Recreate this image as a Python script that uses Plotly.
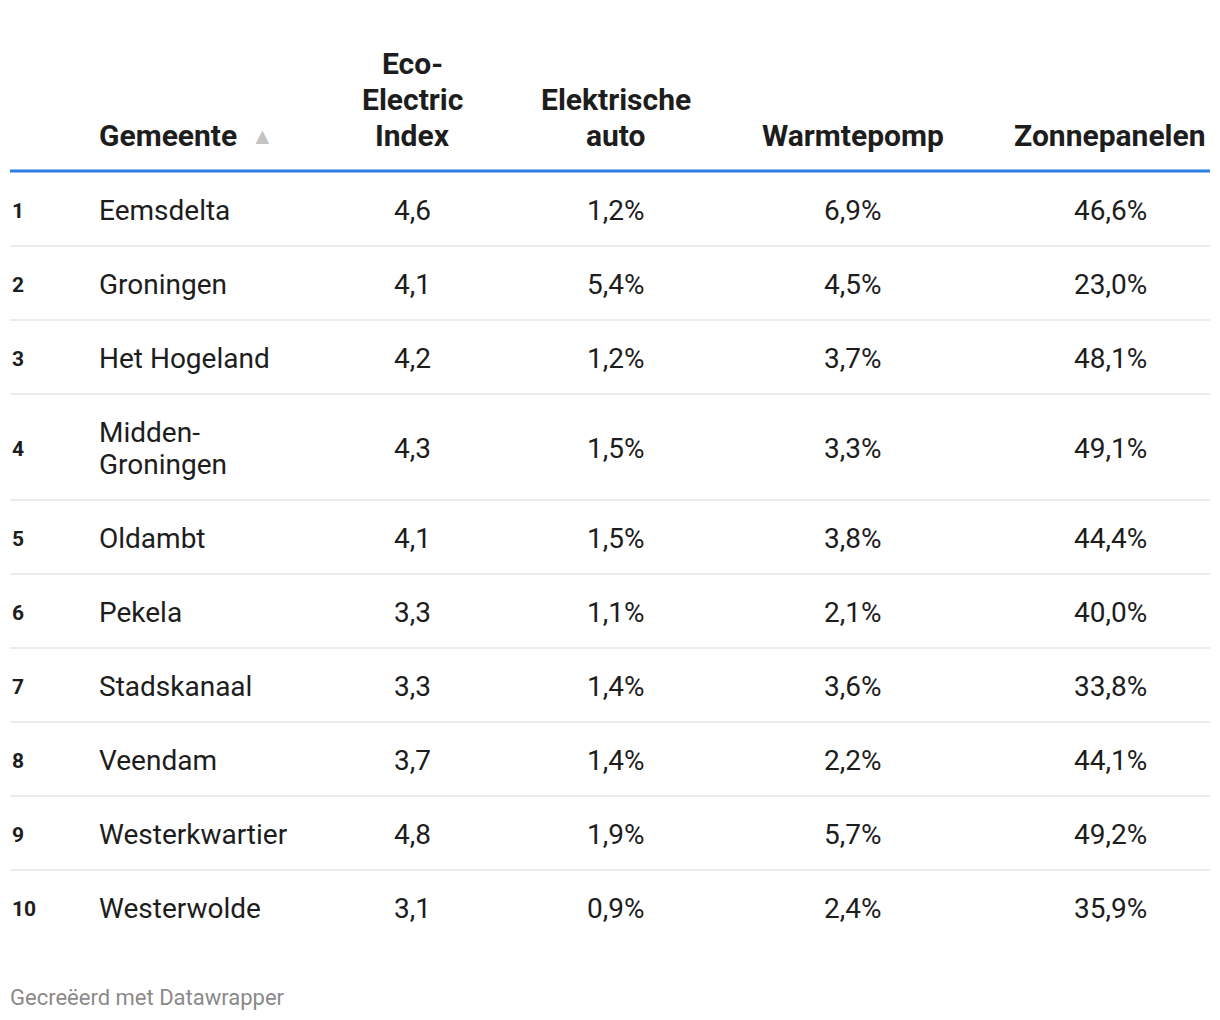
import plotly.graph_objects as go

# ---- data ----
ranks = ["1", "2", "3", "4", "5", "6", "7", "8", "9", "10"]
gemeente = ["Eemsdelta", "Groningen", "Het Hogeland", "Midden-<br>Groningen", "Oldambt",
            "Pekela", "Stadskanaal", "Veendam", "Westerkwartier", "Westerwolde"]
eco_index = ["4,6", "4,1", "4,2", "4,3", "4,1", "3,3", "3,3", "3,7", "4,8", "3,1"]
elek_auto = ["1,2%", "5,4%", "1,2%", "1,5%", "1,5%", "1,1%", "1,4%", "1,4%", "1,9%", "0,9%"]
warmtepomp = ["6,9%", "4,5%", "3,7%", "3,3%", "3,8%", "2,1%", "3,6%", "2,2%", "5,7%", "2,4%"]
zonnepanelen = ["46,6%", "23,0%", "48,1%", "49,1%", "44,4%", "40,0%", "33,8%", "44,1%", "49,2%", "35,9%"]
headers = ["Gemeente", "Eco-<br>Electric<br>Index", "Elektrische<br>auto", "Warmtepomp", "Zonnepanelen"]
footer = "Gecreëerd met Datawrapper"

# ---- layout constants ----
W, H = 1220, 1020
OFF = 8  # page body margin
FONT = "Roboto, 'Open Sans', sans-serif"
TXT = "#1d1d1d"
top = 172
row_h = [106 if "<br>" in g else 74 for g in gemeente]
centers = []
seps = []
y = top
for h in row_h:
    centers.append(y + h / 2)
    y += h
    seps.append(y)
seps = seps[:-1]

col_x = {"rank": 10, "gem": 97, "eco": 412, "auto": 616, "wp": 853, "zp": 1110}
header_base = 135
header_step = 36
dy = 1.5  # vertical nudge for body text

fig = go.Figure()
fig.add_trace(go.Scatter(x=[OFF, W + OFF], y=[OFF, H + OFF], mode="markers",
                         marker=dict(opacity=0), hoverinfo="skip", showlegend=False))

ann = []
# headers
ann.append(dict(x=col_x["gem"], y=header_base, text="<b>" + headers[0] + "</b>", xanchor="left",
                yanchor="middle", font=dict(size=30, color=TXT, family=FONT)))
ann.append(dict(x=262, y=header_base + 1, text="▲", xanchor="center", yanchor="middle",
                font=dict(size=23, color="#c4c4c4", family=FONT)))
for key, text in zip(["eco", "auto", "wp", "zp"], headers[1:]):
    lines = text.split("<br>")
    n = len(lines)
    for j, l in enumerate(lines):
        ann.append(dict(x=col_x[key], y=header_base - (n - 1 - j) * header_step, text="<b>" + l + "</b>",
                        xanchor="center", yanchor="middle",
                        font=dict(size=30, color=TXT, family=FONT)))

for i, cy in enumerate(centers):
    ann.append(dict(x=col_x["rank"], y=cy + dy, text="<b>" + ranks[i] + "</b>", xanchor="left",
                    yanchor="middle", font=dict(size=21, color=TXT, family=FONT)))
    glines = gemeente[i].split("<br>")
    ng = len(glines)
    for j, gl in enumerate(glines):
        ann.append(dict(x=col_x["gem"], y=cy + dy + (j - (ng - 1) / 2) * 32, text=gl, xanchor="left",
                        yanchor="middle", font=dict(size=28, color=TXT, family=FONT)))
    for key, arr in zip(["eco", "auto", "wp", "zp"], [eco_index, elek_auto, warmtepomp, zonnepanelen]):
        ann.append(dict(x=col_x[key], y=cy + dy, text=arr[i], xanchor="center", yanchor="middle",
                        font=dict(size=28, color=TXT, family=FONT)))

ann.append(dict(x=OFF, y=997, text=footer, xanchor="left", yanchor="middle",
                font=dict(size=22, color="#8a8a8a", family=FONT)))

for a in ann:
    a.update(xref="x", yref="y", showarrow=False)

shapes = [dict(type="line", xref="x", yref="y", x0=10, x1=1210, y0=top - 1, y1=top - 1,
               line=dict(color="#2b7de0", width=3))]
for s in seps:
    shapes.append(dict(type="line", xref="x", yref="y", x0=10, x1=1210, y0=s, y1=s,
                       line=dict(color="#e6e6e6", width=1.5)))

fig.update_layout(
    width=W, height=H, margin=dict(l=0, r=0, t=0, b=0),
    paper_bgcolor="white", plot_bgcolor="white",
    xaxis=dict(range=[OFF, W + OFF], visible=False, fixedrange=True),
    yaxis=dict(range=[H + OFF, OFF], visible=False, fixedrange=True),
    annotations=ann, shapes=shapes,
)

fig.write_html("out.html", config={"displayModeBar": False})
